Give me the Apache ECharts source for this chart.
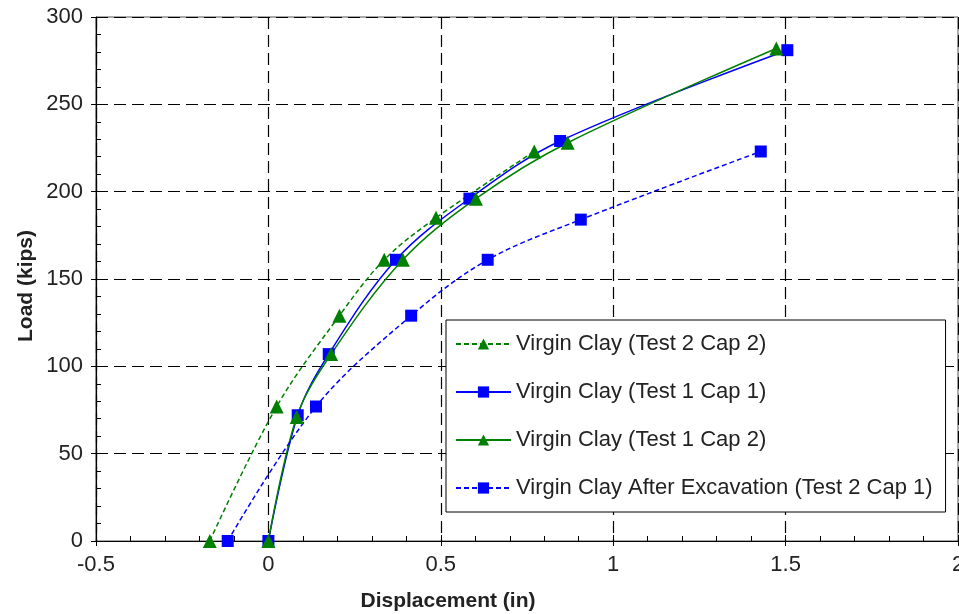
<!DOCTYPE html>
<html>
<head>
<meta charset="utf-8">
<script src="https://cdn.jsdelivr.net/npm/echarts@6/dist/echarts.min.js"></script>
<style>
  html, body { margin: 0; padding: 0; background: #fff; }
  #chart { width: 959px; height: 614px; }
</style>
</head>
<body>
<div id="chart"></div>
<script>
// Load vs displacement curves

const xTicks = [-0.5, 0, 0.5, 1, 1.5, 2];
const yTicks = [0, 50, 100, 150, 200, 250, 300];

// Virgin Clay (Test 2 Cap 2) - green dashed, triangles
const t2c2X = [-0.17, 0.024, 0.206, 0.336, 0.486, 0.771];
const t2c2Y = [0, 77, 129, 161, 185, 223];

// Virgin Clay (Test 1 Cap 1) - blue solid, squares
const t1c1X = [0, 0.085, 0.175, 0.37, 0.583, 0.846, 1.505];
const t1c1Y = [0, 72, 107, 161, 196, 229, 281];

// Virgin Clay (Test 1 Cap 2) - green solid, triangles
const t1c2X = [0, 0.082, 0.182, 0.39, 0.602, 0.868, 1.473];
const t1c2Y = [0, 71, 107, 161, 196, 228, 282];

// Virgin Clay After Excavation (Test 2 Cap 1) - blue dashed, squares
const t2c1X = [-0.118, 0.138, 0.414, 0.636, 0.906, 1.428];
const t2c1Y = [0, 77, 129, 161, 184, 223];

const FONT = 'Liberation Sans, Arial, sans-serif';
const GREEN = '#008000';
const BLUE = '#0000ff';

function pairs(xs, ys) {
    return xs.map((x, i) => [x, ys[i]]);
}

function makeSeries(name, xs, ys, color, dashed, symbol, size) {
    return {
        name: name,
        type: 'line',
        xAxisIndex: 0,
        yAxisIndex: 0,
        data: pairs(xs, ys),
        smooth: 0.35,
        symbol: symbol,
        symbolSize: size,
        showAllSymbol: true,
        itemStyle: { color: color },
        lineStyle: {
            color: color,
            width: 1.5,
            type: dashed ? [5, 3] : 'solid'
        },
        emphasis: { disabled: true },
        animation: false
    };
}

const chart = echarts.init(document.getElementById('chart'));

const gridSplit = {
    show: true,
    lineStyle: { color: '#000', width: 1.2, type: [12, 6] }
};

const option = {
    backgroundColor: '#fff',
    animation: false,
    textStyle: { fontFamily: FONT },
    grid: {
        left: 96,
        right: 1,
        top: 17,
        bottom: 73,
        outerBoundsMode: 'none',
        containLabel: false,
        show: true,
        borderColor: '#555',
        borderWidth: 1
    },
    legend: {
        orient: 'vertical',
        left: 446,
        top: 320,
        backgroundColor: '#fff',
        borderColor: '#000',
        borderWidth: 1,
        borderRadius: 0,
        padding: [13, 13, 13, 9],
        itemGap: 26,
        itemWidth: 55,
        itemHeight: 14,
        textStyle: {
            fontFamily: FONT,
            fontSize: 22,
            lineHeight: 21,
            color: '#222'
        },
        data: [
            'Virgin Clay (Test 2 Cap 2)',
            'Virgin Clay (Test 1 Cap 1)',
            'Virgin Clay (Test 1 Cap 2)',
            'Virgin Clay After Excavation (Test 2 Cap 1)'
        ]
    },
    graphic: [
        {
            type: 'text',
            x: 448,
            y: 601,
            style: {
                text: 'Displacement (in)',
                fontFamily: FONT,
                fontSize: 21,
                fontWeight: 'bold',
                fill: '#222',
                align: 'center',
                verticalAlign: 'middle'
            }
        },
        {
            type: 'text',
            x: 26,
            y: 286,
            rotation: Math.PI / 2,
            style: {
                text: 'Load (kips)',
                fontFamily: FONT,
                fontSize: 21,
                fontWeight: 'bold',
                fill: '#222',
                align: 'center',
                verticalAlign: 'middle'
            },
            originX: 0,
            originY: 0
        }
    ],
    xAxis: [
        {
            type: 'value',
            min: xTicks[0],
            max: xTicks[xTicks.length - 1],
            interval: 0.5,
            axisLine: { show: true, onZero: false, lineStyle: { color: '#000', width: 1.2 } },
            axisTick: { show: true, inside: true, length: 6, lineStyle: { color: '#000' } },
            minorTick: { show: true, splitNumber: 5, length: 5, lineStyle: { color: '#000' } },
            axisLabel: {
                margin: 13,
                fontFamily: FONT,
                fontSize: 22,
                color: '#222',
                showMinLabel: true,
                showMaxLabel: true
            },
            splitLine: gridSplit
        },
        {
            // outward half of the major ticks
            type: 'value',
            position: 'bottom',
            min: xTicks[0],
            max: xTicks[xTicks.length - 1],
            interval: 0.5,
            axisLine: { show: false, onZero: false },
            axisTick: { show: true, inside: false, length: 5, lineStyle: { color: '#000' } },
            axisLabel: { show: false },
            splitLine: { show: false }
        }
    ],
    yAxis: [
        {
            type: 'value',
            min: yTicks[0],
            max: yTicks[yTicks.length - 1],
            interval: 50,
            axisLine: { show: true, onZero: false, lineStyle: { color: '#000', width: 1.2 } },
            axisTick: { show: true, inside: true, length: 6, lineStyle: { color: '#000' } },
            minorTick: { show: true, splitNumber: 5, length: 5, lineStyle: { color: '#000' } },
            axisLabel: {
                margin: 13,
                fontFamily: FONT,
                fontSize: 22,
                color: '#222'
            },
            splitLine: gridSplit
        },
        {
            type: 'value',
            position: 'left',
            min: yTicks[0],
            max: yTicks[yTicks.length - 1],
            interval: 50,
            axisLine: { show: false, onZero: false },
            axisTick: { show: true, inside: false, length: 5, lineStyle: { color: '#000' } },
            axisLabel: { show: false },
            splitLine: { show: false }
        }
    ],
    series: [
        makeSeries('Virgin Clay (Test 2 Cap 2)', t2c2X, t2c2Y, GREEN, true, 'triangle', 14),
        makeSeries('Virgin Clay (Test 1 Cap 1)', t1c1X, t1c1Y, BLUE, false, 'rect', 12),
        makeSeries('Virgin Clay (Test 1 Cap 2)', t1c2X, t1c2Y, GREEN, false, 'triangle', 14),
        makeSeries('Virgin Clay After Excavation (Test 2 Cap 1)', t2c1X, t2c1Y, BLUE, true, 'rect', 12)
    ]
};

chart.setOption(option);
</script>
</body>
</html>
